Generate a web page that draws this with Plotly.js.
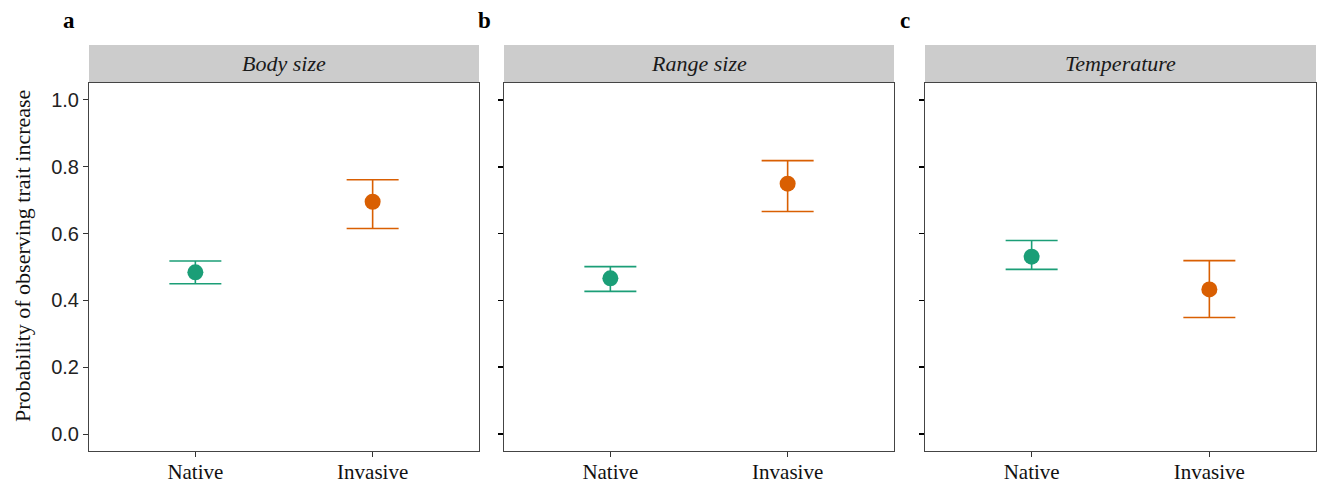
<!DOCTYPE html>
<html>
<head>
<meta charset="utf-8">
<script src="https://cdn.plot.ly/plotly-3.0.1.min.js"></script>
<style>html,body{margin:0;padding:0;background:#fff;}#chart{width:1317px;height:486px;}</style>
</head>
<body>
<div id="chart"></div>
<script>
// ---- data ----
const categories = ['Native', 'Invasive'];
const panelTitles = ['Body size', 'Range size', 'Temperature'];
const panelLetters = ['a', 'b', 'c'];
const nativeMean  = [0.484, 0.466, 0.531];
const nativeLower = [0.450, 0.427, 0.493];
const nativeUpper = [0.518, 0.501, 0.579];
const invasiveMean  = [0.695, 0.749, 0.433];
const invasiveLower = [0.615, 0.666, 0.349];
const invasiveUpper = [0.761, 0.818, 0.519];
const yTicks = [0, 0.2, 0.4, 0.6, 0.8, 1.0];
const yTickText = ['0.0', '0.2', '0.4', '0.6', '0.8', '1.0'];
const yAxisTitle = 'Probability of observing trait increase';
const groupColors = ['#1B9E77', '#D95F02'];

// ---- layout geometry (pixels) ----
const W = 1317, H = 486;
const panelPx = [[89, 479], [504, 894], [925, 1316]];
const plotTop = 83, plotBottom = 451, stripTop = 45;
const serif = 'Liberation Serif, Times New Roman, serif';
const sans = 'Liberation Sans, Arial, sans-serif';

const traces = [];
const layout = {
  width: W, height: H,
  margin: {l: 0, r: 0, t: 0, b: 0},
  paper_bgcolor: '#ffffff', plot_bgcolor: '#ffffff',
  showlegend: false,
  shapes: [], annotations: []
};

const yDom = [1 - plotBottom / H, 1 - plotTop / H];
const groups = [
  {mean: nativeMean, lo: nativeLower, hi: nativeUpper, cat: categories[0], color: groupColors[0]},
  {mean: invasiveMean, lo: invasiveLower, hi: invasiveUpper, cat: categories[1], color: groupColors[1]}
];

for (let p = 0; p < 3; p++) {
  const sfx = p === 0 ? '' : String(p + 1);
  const xa = 'x' + sfx, ya = 'y' + sfx;
  groups.forEach(g => {
    traces.push({
      type: 'scatter', mode: 'markers',
      x: [g.cat], y: [g.mean[p]],
      xaxis: xa, yaxis: ya,
      marker: {color: g.color, size: 16},
      error_y: {
        type: 'data', symmetric: false,
        array: [g.hi[p] - g.mean[p]],
        arrayminus: [g.mean[p] - g.lo[p]],
        color: g.color, thickness: 1.6, width: 26
      },
      hoverinfo: 'x+y'
    });
  });
  const xDom = [panelPx[p][0] / W, panelPx[p][1] / W];
  layout['xaxis' + sfx] = {
    domain: xDom, anchor: ya,
    type: 'category', categoryorder: 'array', categoryarray: categories,
    range: [-0.6, 1.6],
    showgrid: false, zeroline: false,
    showline: true, mirror: true, linecolor: '#444444', linewidth: 1,
    ticks: 'outside', ticklen: 5, tickcolor: '#333333', tickwidth: 1,
    ticklabelstandoff: -3,
    tickfont: {family: serif, size: 21, color: '#111111'},
    fixedrange: true
  };
  layout['yaxis' + sfx] = {
    domain: yDom, anchor: xa,
    range: [-0.05, 1.05],
    tickmode: 'array', tickvals: yTicks, ticktext: yTickText,
    showgrid: false, zeroline: false,
    showline: true, mirror: true, linecolor: '#444444', linewidth: 1,
    ticks: 'outside', ticklen: 5,
    tickcolor: p === 0 ? '#333333' : '#000000', tickwidth: p === 0 ? 1 : 1.8,
    showticklabels: p === 0,
    tickfont: {family: sans, size: 20, color: '#222222'},
    fixedrange: true
  };

  // strip
  layout.shapes.push({
    type: 'rect', xref: 'paper', yref: 'paper',
    x0: xDom[0], x1: xDom[1], y0: yDom[1], y1: 1 - stripTop / H,
    fillcolor: '#CCCCCC', line: {width: 0}, layer: 'below'
  });
  layout.annotations.push({
    xref: 'paper', yref: 'paper',
    x: (xDom[0] + xDom[1]) / 2, y: (yDom[1] + 1 - stripTop / H) / 2,
    xanchor: 'center', yanchor: 'middle', showarrow: false,
    text: '<i>' + panelTitles[p] + '</i>',
    font: {family: serif, size: 22, color: '#1a1a1a'}
  });
  // panel letter
  layout.annotations.push({
    xref: 'paper', yref: 'paper',
    x: (panelPx[p][0] - 20) / W, y: 1 - 20 / H,
    xanchor: 'center', yanchor: 'middle', showarrow: false,
    text: '<b>' + panelLetters[p] + '</b>',
    font: {family: serif, size: 23, color: '#000000'}
  });
}

// y axis title (shared)
layout.annotations.push({
  xref: 'paper', yref: 'paper',
  x: 22 / W, y: 1 - 256 / H,
  xanchor: 'center', yanchor: 'middle', showarrow: false,
  textangle: -90,
  text: yAxisTitle,
  font: {family: serif, size: 22, color: '#111111'}
});

Plotly.newPlot('chart', traces, layout, {displayModeBar: false, staticPlot: true});
</script>
</body>
</html>
